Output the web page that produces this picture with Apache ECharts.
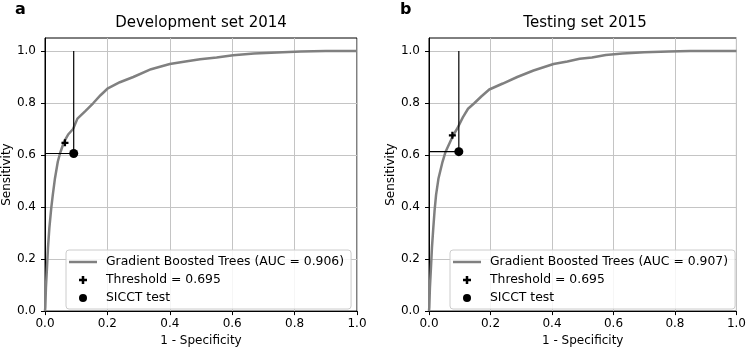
<!DOCTYPE html>
<html>
<head>
<meta charset="utf-8">
<script src="https://cdn.jsdelivr.net/npm/echarts@6/dist/echarts.min.js"></script>
<style>
  html, body { margin: 0; padding: 0; background: #fff; }
  #roc { width: 749px; height: 352px; }
</style>
</head>
<body>
<div id="roc"></div>
<script>
// development set 2014 ROC curve
var devFpr = [0, 0.001, 0.003, 0.0064, 0.0096, 0.014, 0.02, 0.025, 0.032, 0.041, 0.048, 0.061, 0.075, 0.09, 0.104, 0.13, 0.155, 0.178, 0.2, 0.24, 0.283, 0.34, 0.4, 0.45, 0.497, 0.55, 0.603, 0.67, 0.743, 0.82, 0.9, 1.0]
var devTpr = [0, 0.015, 0.091, 0.168, 0.244, 0.32, 0.396, 0.447, 0.511, 0.574, 0.606, 0.651, 0.68, 0.7, 0.74, 0.77, 0.8, 0.83, 0.855, 0.88, 0.9, 0.93, 0.95, 0.96, 0.968, 0.975, 0.984, 0.99, 0.994, 0.998, 1.0, 1.0]
// testing set 2015 ROC curve
var testFpr = [0, 0.001, 0.003, 0.0064, 0.0096, 0.014, 0.018, 0.023, 0.031, 0.044, 0.054, 0.079, 0.092, 0.11, 0.127, 0.148, 0.17, 0.196, 0.24, 0.287, 0.34, 0.405, 0.45, 0.49, 0.53, 0.575, 0.63, 0.7, 0.78, 0.85, 1.0]
var testTpr = [0, 0.015, 0.091, 0.168, 0.244, 0.32, 0.384, 0.447, 0.511, 0.574, 0.613, 0.677, 0.702, 0.745, 0.778, 0.8, 0.825, 0.852, 0.875, 0.9, 0.925, 0.95, 0.96, 0.97, 0.975, 0.985, 0.99, 0.995, 0.998, 1.0, 1.0]
// operating points [fpr, tpr]
var devThreshold = [0.064, 0.647]
var devSicct = [0.092, 0.606]
var testThreshold = [0.076, 0.676]
var testSicct = [0.097, 0.613]
var panelTitles = ['Development set 2014', 'Testing set 2015']
var panelLetters = ['a', 'b']
var curveNames = ['Gradient Boosted Trees (AUC = 0.906)', 'Gradient Boosted Trees (AUC = 0.907)']
var thresholdName = 'Threshold = 0.695'
var sicctName = 'SICCT test'
var axisTicks = [0, 0.2, 0.4, 0.6, 0.8, 1.0]

var FONT = 'DejaVu Sans'
var plusPath = 'path://M2.4 0H4.6V2.4H7V4.6H4.6V7H2.4V4.6H0V2.4H2.4Z'
var lineIcon = 'path://M0 0H28V2.5H0Z'

function zip (xs, ys) {
  return xs.map(function (x, i) { return [x, ys[i]] })
}

var panels = [
  { fpr: devFpr, tpr: devTpr, thr: devThreshold, sicct: devSicct },
  { fpr: testFpr, tpr: testTpr, thr: testThreshold, sicct: testSicct }
]
var grids = [
  { left: 45, top: 38, width: 312, height: 276 },
  { left: 429, top: 38, width: 312, height: 276 }
]

var xAxes = []
var yAxes = []
var series = []
var legends = []
var titles = []

panels.forEach(function (p, i) {
  xAxes.push({
    gridIndex: i,
    type: 'value',
    min: 0,
    max: 1,
    interval: 0.2,
    name: '1 - Specificity',
    nameLocation: 'middle',
    nameGap: 22,
    nameTextStyle: { fontFamily: FONT, fontSize: 12, color: '#000' },
    axisLine: { show: true, onZero: false, lineStyle: { color: '#000', width: 1 } },
    axisTick: { show: true, length: 4, lineStyle: { color: '#000' } },
    axisLabel: { fontFamily: FONT, fontSize: 12, color: '#000', margin: 7,
      formatter: function (v) { return v.toFixed(1) } },
    splitLine: { show: true, lineStyle: { color: '#c4c4c4', width: 1 } }
  })
  var tpMax = Math.max.apply(null, p.tpr)
  yAxes.push({
    gridIndex: i,
    type: 'value',
    min: 0,
    max: tpMax * 1.05,
    interval: 0.2,
    name: 'Sensitivity',
    nameLocation: 'middle',
    nameGap: 32,
    nameTextStyle: { fontFamily: FONT, fontSize: 12, color: '#000' },
    axisLine: { show: true, onZero: false, lineStyle: { color: '#000', width: 1 } },
    axisTick: { show: true, length: 4, lineStyle: { color: '#000' }, customValues: axisTicks },
    axisLabel: { fontFamily: FONT, fontSize: 12, color: '#000', margin: 9, customValues: axisTicks,
      formatter: function (v) { return v.toFixed(1) } },
    splitLine: { show: true, lineStyle: { color: '#c4c4c4', width: 1 } }
  })

  // roc curve
  series.push({
    name: curveNames[i],
    type: 'line',
    xAxisIndex: i,
    yAxisIndex: i,
    data: zip(p.fpr, p.tpr),
    symbol: 'none',
    showSymbol: false,
    lineStyle: { color: '#808080', width: 2.5 },
    itemStyle: { color: '#808080' },
    z: 2
  })
  // guide lines through the SICCT point
  series.push({
    type: 'line',
    xAxisIndex: i,
    yAxisIndex: i,
    data: [[p.sicct[0], p.sicct[1]], [p.sicct[0], tpMax]],
    symbol: 'none',
    silent: true,
    lineStyle: { color: '#000', width: 1.2 },
    z: 3
  })
  series.push({
    type: 'line',
    xAxisIndex: i,
    yAxisIndex: i,
    data: [[0, p.sicct[1]], [p.sicct[0], p.sicct[1]]],
    symbol: 'none',
    silent: true,
    lineStyle: { color: '#000', width: 1.2 },
    z: 3
  })
  series.push({
    name: thresholdName,
    type: 'scatter',
    xAxisIndex: i,
    yAxisIndex: i,
    data: [p.thr],
    symbol: plusPath,
    symbolSize: 7,
    itemStyle: { color: '#000', opacity: 1 },
    z: 4
  })
  series.push({
    name: sicctName,
    type: 'scatter',
    xAxisIndex: i,
    yAxisIndex: i,
    data: [p.sicct],
    symbol: 'circle',
    symbolSize: 9,
    itemStyle: { color: '#000', opacity: 1 },
    z: 4
  })

  legends.push({
    data: [{ name: curveNames[i], icon: lineIcon }, thresholdName, sicctName],
    orient: 'vertical',
    left: grids[i].left + 21,
    top: 250,
    itemWidth: 28,
    itemHeight: 8,
    itemGap: 6,
    padding: [6, 7, 5, 3],
    backgroundColor: 'rgba(255,255,255,0.85)',
    borderColor: '#cccccc',
    borderWidth: 1,
    borderRadius: 3,
    selectedMode: false,
    textStyle: { fontFamily: FONT, fontSize: 12.4, color: '#000', padding: [0, 0, 0, 4] }
  })

  titles.push({
    text: panelTitles[i],
    left: grids[i].left + grids[i].width / 2,
    textAlign: 'center',
    top: 16,
    padding: 0,
    textStyle: { fontFamily: FONT, fontSize: 15, fontWeight: 'normal', color: '#000' }
  })
  titles.push({
    text: panelLetters[i],
    left: i === 0 ? 15 : 400,
    top: 2,
    padding: 0,
    textStyle: { fontFamily: FONT, fontSize: 16, fontWeight: 'bold', color: '#000' }
  })
})

var chart = echarts.init(document.getElementById('roc'), null, { renderer: 'canvas' })
chart.setOption({
  animation: false,
  backgroundColor: '#fff',
  title: titles,
  grid: grids.map(function (g) {
    return Object.assign({ show: true, borderColor: '#000', borderWidth: 1, backgroundColor: 'transparent' }, g)
  }),
  legend: legends,
  xAxis: xAxes,
  yAxis: yAxes,
  series: series
})
</script>
</body>
</html>
